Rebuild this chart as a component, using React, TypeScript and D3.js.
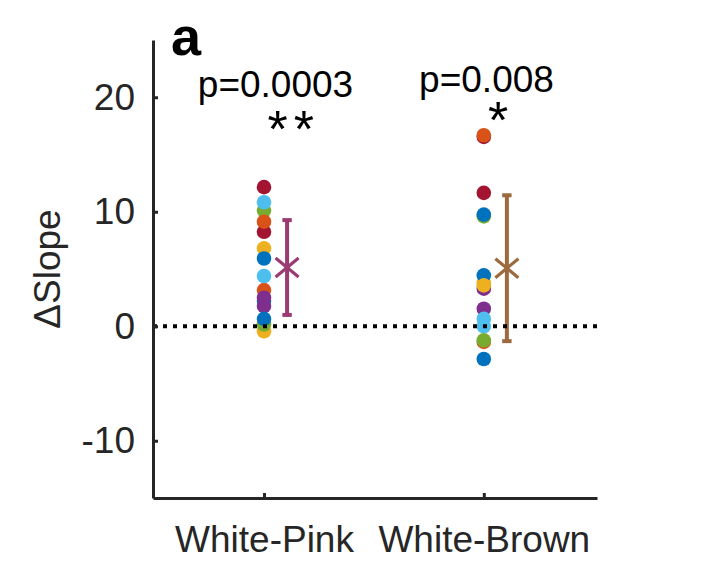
import { useEffect, useRef } from 'react'
import * as d3 from 'd3'

// values, one entry per subject (same order in both groups)
const GROUPS = ['White-Pink', 'White-Brown']
const PINK_DELTA = [2.2, 3.16, 6.8, 2.49, 10.1, 4.39, 8.25, 5.92, 9.13, -0.44, 1.76, 0.15, 10.83, 12.15, 0.65]
const BROWN_DELTA = [-2.86, -1.37, 3.8, 3.28, 9.6, 0, 16.54, 4.45, 16.68, 3.57, 1.53, -1.23, 0.65, 11.65, 9.75]
const GROUP_MEANS = [5.13, 5.07]
const GROUP_ERRORS = [4.14, 6.37]
const P_LABELS = ['p=0.0003', 'p=0.008']
const STAR_LABELS = ['**', '*']
const Y_TICKS = [-10, 0, 10, 20]

const W = 703
const H = 563
const PLOT = { left: 153, right: 597, top: 40, bottom: 498 }
const SUBJECT_COLORS = ['#0072BD', '#D95319', '#EDB120', '#7E2F8E', '#77AC30', '#4DBEEE', '#A2142F']
const BAR_COLORS = ['#9B3B74', '#9C6A3F']
const AXIS_COLOR = '#262626'
const FONT = "'Liberation Sans', Arial, Helvetica, sans-serif"
const FONT_SIZE = 37
const DOT_R = 7.3
const BAR_OFFSET = 0.105

export default function App() {
  const svgRef = useRef<SVGSVGElement>(null)

  useEffect(() => {
    const svg = svgRef.current
    if (!svg) return
    const sel = d3.select(svg)
    sel.selectAll('*').remove()

    const x = d3.scaleLinear().domain([0.495, 2.515]).range([PLOT.left, PLOT.right])
    const y = d3.scaleLinear().domain([-15, 25]).range([PLOT.bottom, PLOT.top])

    const series = [PINK_DELTA, BROWN_DELTA]

    // ── subject dots ──────────────────────────────────────────────────
    series.forEach((vals, gi) => {
      sel.append('g')
        .selectAll('circle')
        .data(vals)
        .join('circle')
        .attr('cx', x(gi + 1))
        .attr('cy', (d) => y(d))
        .attr('r', DOT_R)
        .attr('fill', (_, i) => SUBJECT_COLORS[i % SUBJECT_COLORS.length])
    })

    // ── mean ± error ──────────────────────────────────────────────────
    GROUP_MEANS.forEach((m, gi) => {
      const bx = x(gi + 1 + BAR_OFFSET)
      const col = BAR_COLORS[gi]
      const g = sel.append('g').attr('stroke', col).attr('fill', 'none')
      const lo = y(m - GROUP_ERRORS[gi])
      const hi = y(m + GROUP_ERRORS[gi])
      g.append('line').attr('x1', bx).attr('x2', bx).attr('y1', lo).attr('y2', hi).attr('stroke-width', 4)
      g.append('line').attr('x1', bx - 4.7).attr('x2', bx + 4.7).attr('y1', lo).attr('y2', lo).attr('stroke-width', 4)
      g.append('line').attr('x1', bx - 4.7).attr('x2', bx + 4.7).attr('y1', hi).attr('y2', hi).attr('stroke-width', 4)
      const p = d3.path()
      const cy = y(m)
      p.moveTo(bx - 11.5, cy - 9.5); p.lineTo(bx + 11.5, cy + 9.5)
      p.moveTo(bx + 11.5, cy - 9.5); p.lineTo(bx - 11.5, cy + 9.5)
      g.append('path').attr('d', p.toString()).attr('stroke-width', 3.2)
    })

    // ── zero reference ────────────────────────────────────────────────
    sel.append('line')
      .attr('x1', PLOT.left).attr('x2', PLOT.right)
      .attr('y1', y(0)).attr('y2', y(0))
      .attr('stroke', '#000')
      .attr('stroke-width', 4)
      .attr('stroke-dasharray', '4,6')

    // ── axes ──────────────────────────────────────────────────────────
    const yAxis = d3.axisLeft(y).tickValues(Y_TICKS).tickFormat((d) => `${d}`).tickSizeInner(-5).tickSizeOuter(0).tickPadding(18)
    const xAxis = d3.axisBottom(x).tickValues([1, 2]).tickFormat((d) => GROUPS[(d as number) - 1]).tickSizeInner(-5).tickSizeOuter(0).tickPadding(28)

    const styleAxis = (g: d3.Selection<SVGGElement, unknown, null, undefined>) => {
      g.select('.domain').attr('stroke', AXIS_COLOR).attr('stroke-width', 3)
      g.selectAll('.tick line').attr('stroke', AXIS_COLOR).attr('stroke-width', 3)
      g.selectAll('.tick text').attr('fill', AXIS_COLOR).attr('font-size', FONT_SIZE).attr('font-family', FONT)
    }

    sel.append('g').attr('transform', `translate(${PLOT.left},0)`).call(yAxis).call(styleAxis)
    sel.append('g').attr('transform', `translate(0,${PLOT.bottom})`).call(xAxis).call(styleAxis)

    sel.append('text')
      .attr('transform', `translate(60,${(PLOT.top + PLOT.bottom) / 2}) rotate(-90)`)
      .attr('text-anchor', 'middle')
      .attr('fill', AXIS_COLOR)
      .attr('font-size', FONT_SIZE)
      .attr('font-family', FONT)
      .text('ΔSlope')

    // ── panel letter and significance ─────────────────────────────────
    sel.append('text')
      .attr('x', 171).attr('y', 55)
      .attr('font-size', 54).attr('font-weight', 'bold').attr('font-family', FONT)
      .attr('fill', '#000')
      .text('a')

    // p-value with its stars underneath, as one two-line label
    const pPos = [{ cx: 275.5, base: 97 }, { cx: 486.5, base: 92 }]
    const starPos = [{ cx: 290.7, base: 147 }, { cx: 498, base: 138 }]
    P_LABELS.forEach((lab, gi) => {
      const t = sel.append('text')
        .attr('text-anchor', 'middle')
        .attr('font-family', FONT)
        .attr('fill', '#000')
      t.append('tspan')
        .attr('x', pPos[gi].cx).attr('y', pPos[gi].base)
        .attr('font-size', FONT_SIZE)
        .text(lab)
      t.append('tspan')
        .attr('x', starPos[gi].cx + 3).attr('y', starPos[gi].base)
        .attr('font-size', 52)
        .attr('letter-spacing', 6)
        .text(STAR_LABELS[gi])
    })
  }, [])

  return (
    <svg
      ref={svgRef}
      width={W}
      height={H}
      style={{ position: 'absolute', left: 0, top: 0, background: '#fff' }}
    />
  )
}
